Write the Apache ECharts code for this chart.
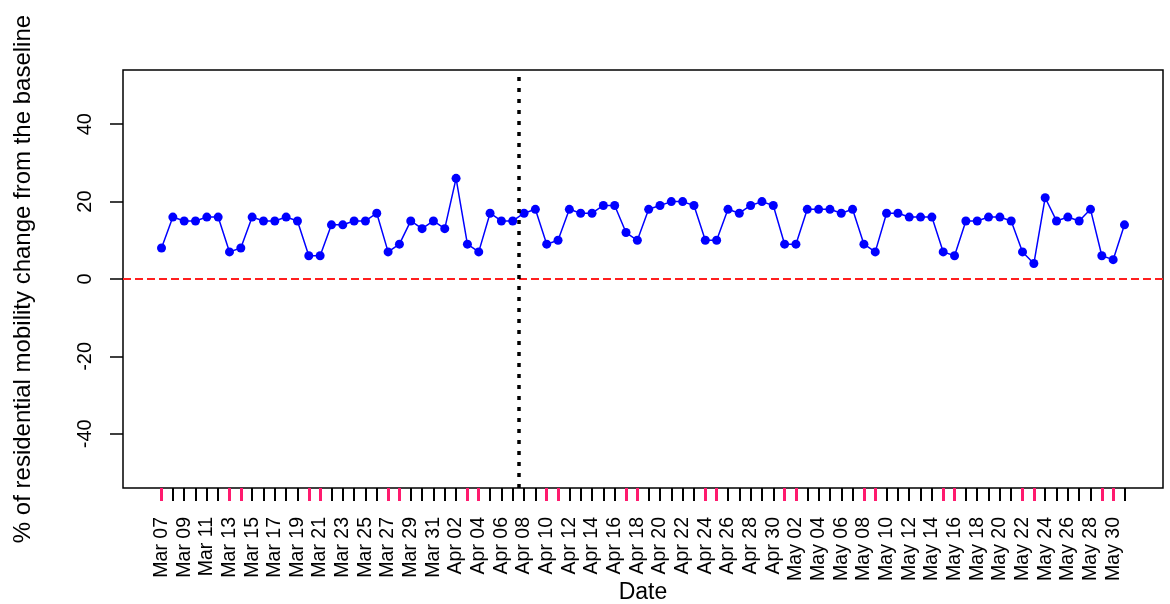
<!DOCTYPE html>
<html>
<head>
<meta charset="utf-8">
<script src="https://cdn.jsdelivr.net/npm/echarts@6/dist/echarts.min.js"></script>
<style>
  html, body { margin: 0; padding: 0; background: #fff; }
  #chart { width: 1170px; height: 604px; }
</style>
</head>
<body>
<div id="chart"></div>
<script>
// Daily dates, Mar 07 to May 31
const dates = [
  'Mar 07','Mar 08','Mar 09','Mar 10','Mar 11','Mar 12','Mar 13','Mar 14','Mar 15','Mar 16',
  'Mar 17','Mar 18','Mar 19','Mar 20','Mar 21','Mar 22','Mar 23','Mar 24','Mar 25','Mar 26',
  'Mar 27','Mar 28','Mar 29','Mar 30','Mar 31','Apr 01','Apr 02','Apr 03','Apr 04','Apr 05',
  'Apr 06','Apr 07','Apr 08','Apr 09','Apr 10','Apr 11','Apr 12','Apr 13','Apr 14','Apr 15',
  'Apr 16','Apr 17','Apr 18','Apr 19','Apr 20','Apr 21','Apr 22','Apr 23','Apr 24','Apr 25',
  'Apr 26','Apr 27','Apr 28','Apr 29','Apr 30','May 01','May 02','May 03','May 04','May 05',
  'May 06','May 07','May 08','May 09','May 10','May 11','May 12','May 13','May 14','May 15',
  'May 16','May 17','May 18','May 19','May 20','May 21','May 22','May 23','May 24','May 25',
  'May 26','May 27','May 28','May 29','May 30','May 31'
];

// % change of residential mobility from the baseline, one value per day
const residential = [
  8, 16, 15, 15, 16, 16, 7, 8, 16, 15,
  15, 16, 15, 6, 6, 14, 14, 15, 15, 17,
  7, 9, 15, 13, 15, 13, 26, 9, 7, 17,
  15, 15, 17, 18, 9, 10, 18, 17, 17, 19,
  19, 12, 10, 18, 19, 20, 20, 19, 10, 10,
  18, 17, 19, 20, 19, 9, 9, 18, 18, 18,
  17, 18, 9, 7, 17, 17, 16, 16, 16, 7,
  6, 15, 15, 16, 16, 15, 7, 4, 21, 15,
  16, 15, 18, 6, 5, 14
];

// Weekend days (Friday and Saturday), marked with coloured ticks
const weekendIdx = [0, 6, 7, 13, 14, 20, 21, 27, 28, 34, 35, 41, 42, 48, 49, 55, 56, 62, 63, 69, 70, 76, 77, 83, 84];

// Labelled dates (every second day) and y-axis ticks
const labelIdx = [0,2,4,6,8,10,12,14,16,18,20,22,24,26,28,30,32,34,36,38,40,42,44,46,48,50,52,54,56,58,60,62,64,66,68,70,72,74,76,78,80,82,84];
const yTicks = [-40, -20, 0, 20, 40];

// Position of the vertical reference line (between Apr 07 and Apr 08)
const cutoff = 31.5;
const baseline = 0;

const weekdayIdx = dates.map((d, i) => i).filter(i => weekendIdx.indexOf(i) < 0);
const seriesData = residential.map((v, i) => [i, v]);

const FONT = "'Liberation Sans', Arial, sans-serif";
const xMin = -3.4, xMax = dates.length - 1 + 3.4;

const chart = echarts.init(document.getElementById('chart'), null, { renderer: 'canvas' });
chart.setOption({
  animation: false,
  backgroundColor: '#ffffff',
  grid: {
    left: 123, right: 7, top: 70, bottom: 116,
    outerBoundsMode: 'none', containLabel: false,
    show: true, borderColor: '#000', borderWidth: 1.5, backgroundColor: 'transparent'
  },
  xAxis: [
    {
      type: 'value', min: xMin, max: xMax,
      name: 'Date', nameLocation: 'middle', nameGap: 93, nameMoveOverlap: false,
      nameTextStyle: { fontFamily: FONT, fontSize: 23, color: '#000' },
      axisLine: { show: false, onZero: false },
      splitLine: { show: false },
      axisTick: { show: true, length: 13, customValues: weekdayIdx, lineStyle: { color: '#000', width: 2 } },
      axisLabel: {
        customValues: labelIdx, rotate: 90, margin: 29,
        fontFamily: FONT, fontSize: 19.5, color: '#000',
        formatter: v => dates[Math.round(v)]
      }
    },
    {
      type: 'value', min: xMin, max: xMax, position: 'bottom',
      axisLine: { show: false, onZero: false },
      splitLine: { show: false },
      axisLabel: { show: false },
      axisTick: { show: true, length: 13, customValues: weekendIdx, lineStyle: { color: '#ff1a6e', width: 3 } }
    }
  ],
  yAxis: {
    type: 'value', min: -54, max: 54,
    name: '% of residential mobility change from the baseline',
    nameLocation: 'middle', nameGap: 88, nameMoveOverlap: false,
    nameTextStyle: { fontFamily: FONT, fontSize: 24, color: '#000' },
    axisLine: { show: false, onZero: false },
    splitLine: { show: false },
    axisTick: { show: true, length: 13, customValues: yTicks, lineStyle: { color: '#000', width: 1.5 } },
    axisLabel: {
      customValues: yTicks, rotate: 90, margin: 28,
      fontFamily: FONT, fontSize: 20, color: '#000'
    }
  },
  series: [
    {
      type: 'line',
      data: seriesData,
      xAxisIndex: 0,
      symbol: 'circle', symbolSize: 9,
      lineStyle: { color: '#0000ff', width: 1.5 },
      itemStyle: { color: '#0000ff' },
      z: 3,
      markLine: {
        silent: true, symbol: 'none', label: { show: false },
        data: [
          { yAxis: baseline, lineStyle: { color: '#ff1f1f', type: [8, 4], width: 2 } },
          { xAxis: cutoff, lineStyle: { color: '#000', type: [4, 7], width: 3.5 } }
        ]
      }
    }
  ]
});
</script>
</body>
</html>
